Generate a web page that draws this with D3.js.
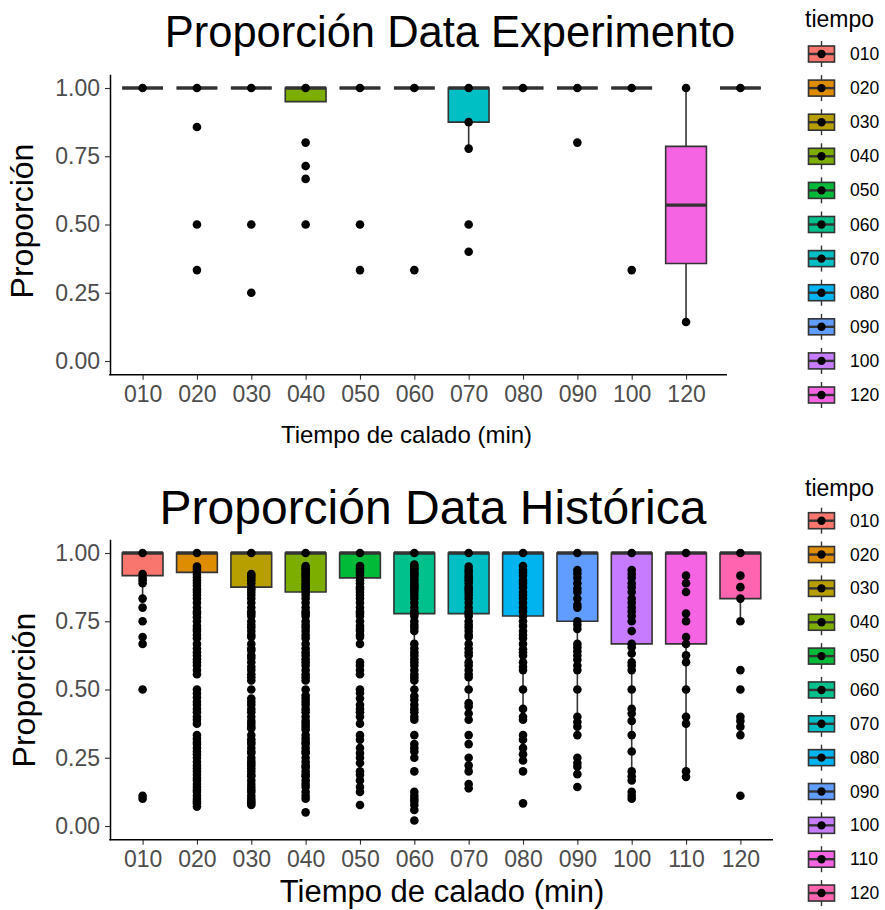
<!DOCTYPE html>
<html>
<head>
<meta charset="utf-8">
<script src="https://cdn.jsdelivr.net/npm/d3@7"></script>
<style>
  body { margin: 0; background: #fff; }
  text { font-family: "Liberation Sans", Arial, sans-serif; }
</style>
</head>
<body>
<svg id="chart" width="885" height="910"></svg>
<script>
/* ---- Datos: experimento ---- */
const tiemposExp = ['010', '020', '030', '040', '050', '060', '070', '080', '090', '100', '120', 'NA'];
const etiquetasExp = ['010', '020', '030', '040', '050', '060', '070', '080', '090', '100', '120', ''];
const leyendaExp = ['010', '020', '030', '040', '050', '060', '070', '080', '090', '100', '120'];
const coloresExp = ['#F8766D', '#DE8C00', '#B79F00', '#7CAE00', '#00BA38', '#00C08B',
  '#00BFC4', '#00B4F0', '#619CFF', '#C77CFF', '#F564E3', '#FF64B0'];

const expQ1 = [1, 1, 1, 0.95, 1, 1, 0.875, 1, 1, 1, 0.357, 1];
const expMediana = [1, 1, 1, 1, 1, 1, 1, 1, 1, 1, 0.571, 1];
const expQ3 = [1, 1, 1, 1, 1, 1, 1, 1, 1, 1, 0.786, 1];
const expBigoteInf = [1, 1, 1, 0.95, 1, 1, 0.778, 1, 1, 1, 0.143, 1];
const expBigoteSup = [1, 1, 1, 1, 1, 1, 1, 1, 1, 1, 1, 1];
const expPuntos = [
  [1],
  [1, 0.857, 0.5, 0.333],
  [1, 0.5, 0.25],
  [1, 0.8, 0.714, 0.667, 0.5],
  [1, 0.5, 0.333],
  [1, 0.333],
  [1, 0.875, 0.778, 0.5, 0.4],
  [1],
  [1, 0.8],
  [1, 0.333],
  [1, 0.143],
  [1]
];

/* ---- Datos: histórica ---- */
const tiemposHist = ['010', '020', '030', '040', '050', '060', '070', '080', '090', '100', '110', '120'];
const coloresHist = ['#F8766D', '#DE8C00', '#B79F00', '#7CAE00', '#00BA38', '#00C08B',
  '#00BFC4', '#00B4F0', '#619CFF', '#C77CFF', '#F564E3', '#FF64B0'];

const histQ1 = [0.917, 0.929, 0.875, 0.857, 0.909, 0.778, 0.778, 0.769, 0.75, 0.667, 0.667, 0.833];
const histMediana = [1, 1, 1, 1, 1, 1, 1, 1, 1, 1, 1, 1];
const histQ3 = [1, 1, 1, 1, 1, 1, 1, 1, 1, 1, 1, 1];
const histBigoteInf = [0.833, 0.833, 0.692, 0.65, 0.778, 0.444, 0.444, 0.429, 0.333, 0.167, 0.18, 0.75];
const histBigoteSup = [1, 1, 1, 1, 1, 1, 1, 1, 1, 1, 1, 1];
const histPuntos = [
  [1, 0.923, 0.909, 0.9, 0.889, 0.833, 0.8, 0.75, 0.692, 0.667, 0.5, 0.111, 0.1],
  [1, 0.95, 0.94, 0.93, 0.92, 0.91, 0.9, 0.89, 0.88, 0.867, 0.857, 0.846, 0.833, 0.818, 0.8,
    0.786, 0.778, 0.765, 0.75, 0.733, 0.722, 0.714, 0.7, 0.688, 0.667, 0.65, 0.636, 0.625,
    0.611, 0.6, 0.588, 0.571, 0.556, 0.5, 0.485, 0.471, 0.455, 0.444, 0.429, 0.417, 0.4,
    0.389, 0.375, 0.333, 0.32, 0.308, 0.3, 0.286, 0.273, 0.263, 0.25, 0.235, 0.222, 0.211,
    0.2, 0.188, 0.176, 0.167, 0.154, 0.143, 0.133, 0.125, 0.111, 0.1, 0.091, 0.083, 0.071],
  [1, 0.923, 0.917, 0.909, 0.9, 0.889, 0.875, 0.867, 0.857, 0.846, 0.833, 0.818, 0.8, 0.786,
    0.778, 0.769, 0.75, 0.737, 0.727, 0.714, 0.7, 0.692, 0.667, 0.65, 0.643, 0.625, 0.615,
    0.6, 0.583, 0.571, 0.556, 0.545, 0.533, 0.5, 0.467, 0.455, 0.444, 0.429, 0.417, 0.4,
    0.385, 0.375, 0.364, 0.357, 0.333, 0.318, 0.308, 0.3, 0.286, 0.273, 0.267, 0.25, 0.238,
    0.231, 0.222, 0.211, 0.2, 0.188, 0.182, 0.167, 0.154, 0.143, 0.133, 0.125, 0.111, 0.1,
    0.091, 0.083, 0.077],
  [1, 0.952, 0.944, 0.938, 0.929, 0.923, 0.917, 0.909, 0.9, 0.889, 0.882, 0.875, 0.867,
    0.857, 0.846, 0.833, 0.818, 0.8, 0.786, 0.778, 0.769, 0.75, 0.737, 0.727, 0.714, 0.7,
    0.688, 0.667, 0.65, 0.636, 0.625, 0.611, 0.6, 0.588, 0.571, 0.556, 0.545, 0.533, 0.5,
    0.478, 0.467, 0.455, 0.444, 0.429, 0.417, 0.4, 0.385, 0.375, 0.364, 0.353, 0.333, 0.32,
    0.308, 0.3, 0.286, 0.273, 0.267, 0.25, 0.235, 0.222, 0.214, 0.2, 0.188, 0.182, 0.167,
    0.154, 0.143, 0.125, 0.111, 0.1, 0.05],
  [1, 0.952, 0.944, 0.938, 0.929, 0.917, 0.909, 0.9, 0.889, 0.875, 0.867, 0.857, 0.846,
    0.833, 0.818, 0.8, 0.786, 0.778, 0.769, 0.75, 0.733, 0.722, 0.714, 0.7, 0.692, 0.667,
    0.6, 0.588, 0.571, 0.556, 0.5, 0.487, 0.467, 0.444, 0.429, 0.417, 0.4, 0.375, 0.333,
    0.316, 0.286, 0.267, 0.25, 0.231, 0.2, 0.188, 0.167, 0.143, 0.125, 0.077],
  [1, 0.958, 0.95, 0.944, 0.938, 0.929, 0.923, 0.917, 0.909, 0.9, 0.889, 0.882, 0.875,
    0.867, 0.857, 0.846, 0.833, 0.818, 0.8, 0.786, 0.778, 0.769, 0.75, 0.737, 0.727, 0.714,
    0.667, 0.65, 0.636, 0.625, 0.611, 0.6, 0.588, 0.571, 0.556, 0.545, 0.533, 0.5, 0.476,
    0.462, 0.444, 0.429, 0.417, 0.4, 0.389, 0.333, 0.3, 0.286, 0.273, 0.25, 0.2, 0.125,
    0.111, 0.1, 0.091, 0.077, 0.059, 0.02],
  [1, 0.95, 0.938, 0.929, 0.917, 0.909, 0.9, 0.889, 0.875, 0.867, 0.857, 0.846, 0.833,
    0.818, 0.8, 0.786, 0.778, 0.769, 0.75, 0.737, 0.727, 0.714, 0.7, 0.692, 0.667, 0.65,
    0.636, 0.625, 0.6, 0.588, 0.571, 0.556, 0.545, 0.5, 0.45, 0.438, 0.412, 0.389, 0.333,
    0.3, 0.25, 0.222, 0.2, 0.154, 0.138],
  [1, 0.952, 0.938, 0.929, 0.917, 0.9, 0.889, 0.875, 0.857, 0.846, 0.833, 0.818, 0.8,
    0.786, 0.769, 0.75, 0.733, 0.714, 0.7, 0.688, 0.667, 0.647, 0.636, 0.625, 0.6, 0.583,
    0.571, 0.5, 0.429, 0.4, 0.389, 0.333, 0.316, 0.286, 0.263, 0.24, 0.2, 0.083],
  [1, 0.938, 0.925, 0.909, 0.889, 0.87, 0.857, 0.833, 0.81, 0.8, 0.75, 0.737, 0.722,
    0.667, 0.655, 0.64, 0.625, 0.609, 0.588, 0.571, 0.5, 0.4, 0.381, 0.364, 0.333, 0.25,
    0.231, 0.217, 0.19, 0.143],
  [1, 0.938, 0.923, 0.909, 0.889, 0.875, 0.857, 0.833, 0.818, 0.8, 0.786, 0.769, 0.75,
    0.714, 0.667, 0.655, 0.632, 0.6, 0.588, 0.571, 0.5, 0.429, 0.412, 0.385, 0.333, 0.273,
    0.2, 0.182, 0.167, 0.125, 0.111, 0.1],
  [1, 0.917, 0.889, 0.857, 0.778, 0.75, 0.692, 0.667, 0.625, 0.6, 0.5, 0.4, 0.375, 0.2, 0.18],
  [1, 0.917, 0.875, 0.833, 0.75, 0.571, 0.5, 0.4, 0.385, 0.364, 0.333, 0.111]
];

const ticksY = [0, 0.25, 0.5, 0.75, 1];

const svg = d3.select('#chart');
const GRIS = '#333333';

function drawPanel(cfg) {
  const g = svg.append('g');

  const x = d3.scalePoint()
    .domain(cfg.categorias)
    .range([110, 773])
    .padding(0.6);

  const y = d3.scaleLinear()
    .domain([-0.05, 1.05])
    .range([cfg.yBottom, cfg.yTop]);

  const w = x.step() * 0.75;

  // ---- Axes ----
  const ax = g.append('g')
    .attr('transform', `translate(0,${cfg.yBottom})`)
    .call(d3.axisBottom(x).tickSize(5).tickSizeOuter(0).tickPadding(6)
      .tickFormat((d, i) => cfg.etiquetas[i]));
  ax.select('.domain').remove();
  ax.selectAll('.tick line').attr('stroke', GRIS).attr('stroke-width', 1.1)
    .filter((d, i) => cfg.etiquetas[i] === '').remove();
  ax.selectAll('.tick text').attr('font-size', 23).attr('fill', '#4D4D4D')
    .attr('font-family', '"Liberation Sans", Arial, sans-serif');

  const ay = g.append('g')
    .attr('transform', 'translate(110,0)')
    .call(d3.axisLeft(y).tickValues(ticksY).tickFormat(d3.format('.2f'))
      .tickSize(5).tickSizeOuter(0).tickPadding(5));
  ay.select('.domain').attr('stroke', '#000').attr('stroke-width', 1.5);
  ay.selectAll('.tick line').attr('stroke', GRIS).attr('stroke-width', 1.1);
  ay.selectAll('.tick text').attr('font-size', 23).attr('fill', '#4D4D4D')
    .attr('font-family', '"Liberation Sans", Arial, sans-serif');

  g.append('line')
    .attr('x1', 109.25).attr('x2', cfg.xAxisEnd)
    .attr('y1', cfg.yBottom).attr('y2', cfg.yBottom)
    .attr('stroke', '#000').attr('stroke-width', 1.5);

  // ---- Boxes ----
  const idx = d3.range(cfg.categorias.length);
  const cajas = g.append('g').selectAll('g').data(idx).join('g');

  cajas.append('line')
    .attr('x1', i => x(cfg.categorias[i])).attr('x2', i => x(cfg.categorias[i]))
    .attr('y1', i => y(cfg.q1[i])).attr('y2', i => y(cfg.lo[i]))
    .attr('stroke', GRIS).attr('stroke-width', 1.6);
  cajas.append('line')
    .attr('x1', i => x(cfg.categorias[i])).attr('x2', i => x(cfg.categorias[i]))
    .attr('y1', i => y(cfg.q3[i])).attr('y2', i => y(cfg.hi[i]))
    .attr('stroke', GRIS).attr('stroke-width', 1.6);

  cajas.append('path')
    .attr('d', i => {
      const cx = x(cfg.categorias[i]);
      return `M${cx - w / 2},${y(cfg.q3[i])}H${cx + w / 2}V${y(cfg.q1[i])}H${cx - w / 2}Z`;
    })
    .attr('fill', i => cfg.colores[i])
    .attr('stroke', GRIS).attr('stroke-width', 1.6);

  cajas.append('line')
    .attr('x1', i => x(cfg.categorias[i]) - w / 2).attr('x2', i => x(cfg.categorias[i]) + w / 2)
    .attr('y1', i => y(cfg.mediana[i])).attr('y2', i => y(cfg.mediana[i]))
    .attr('stroke', GRIS).attr('stroke-width', 3.4);

  // ---- Points ----
  const puntos = idx.flatMap(i => cfg.puntos[i].map(v => ({ cat: cfg.categorias[i], v })));
  g.append('g').selectAll('circle').data(puntos).join('circle')
    .attr('cx', d => x(d.cat))
    .attr('cy', d => y(d.v))
    .attr('r', 4.3)
    .attr('fill', '#000');

  // ---- Titles ----
  g.append('text')
    .attr('x', cfg.titulo.x).attr('y', cfg.titulo.y)
    .attr('text-anchor', 'middle').attr('font-size', cfg.titulo.size)
    .attr('fill', '#000').text(cfg.titulo.text);

  g.append('text')
    .attr('x', cfg.xLabel.x).attr('y', cfg.xLabel.y)
    .attr('text-anchor', 'middle').attr('font-size', cfg.xLabel.size)
    .attr('fill', '#000').text('Tiempo de calado (min)');

  g.append('text')
    .attr('transform', `translate(${cfg.yLabel.x},${cfg.yLabel.y}) rotate(-90)`)
    .attr('text-anchor', 'middle').attr('font-size', 32)
    .attr('fill', '#000').text('Proporción');

  // ---- Legend ----
  const lg = g.append('g');
  lg.append('text')
    .attr('x', 805).attr('y', cfg.leyenda.tituloY)
    .attr('font-size', 23).attr('fill', '#000').text('tiempo');

  const keys = lg.selectAll('g.key').data(cfg.leyenda.items).join('g')
    .attr('class', 'key')
    .attr('transform', (d, i) => `translate(821.5,${cfg.leyenda.y0 + i * cfg.leyenda.paso})`);
  keys.append('line').attr('y1', -13).attr('y2', 13)
    .attr('stroke', GRIS).attr('stroke-width', 1.4);
  keys.append('rect')
    .attr('x', -13).attr('y', -8).attr('width', 26).attr('height', 16)
    .attr('fill', (d, i) => cfg.colores[i])
    .attr('stroke', GRIS).attr('stroke-width', 1.6);
  keys.append('line').attr('x1', -13).attr('x2', 13)
    .attr('stroke', GRIS).attr('stroke-width', 2.4);
  keys.append('circle').attr('r', 4.2).attr('fill', '#000');
  keys.append('text')
    .attr('x', 28.5).attr('y', 6)
    .attr('font-size', 17.5).attr('fill', '#000')
    .text(d => d);
}

drawPanel({
  categorias: tiemposExp, etiquetas: etiquetasExp, colores: coloresExp,
  q1: expQ1, mediana: expMediana, q3: expQ3, lo: expBigoteInf, hi: expBigoteSup,
  puntos: expPuntos,
  yTop: 74.35, yBottom: 374.65, xAxisEnd: 727,
  titulo: { text: 'Proporción Data Experimento', x: 450, y: 47, size: 43.5 },
  xLabel: { x: 406.5, y: 443, size: 24 },
  yLabel: { x: 33, y: 221 },
  leyenda: { items: leyendaExp, tituloY: 27, y0: 54, paso: 34.1 }
});

drawPanel({
  categorias: tiemposHist, etiquetas: tiemposHist, colores: coloresHist,
  q1: histQ1, mediana: histMediana, q3: histQ3, lo: histBigoteInf, hi: histBigoteSup,
  puntos: histPuntos,
  yTop: 539.35, yBottom: 839.65, xAxisEnd: 773,
  titulo: { text: 'Proporción Data Histórica', x: 433, y: 524, size: 48 },
  xLabel: { x: 442, y: 902, size: 31 },
  yLabel: { x: 35, y: 690 },
  leyenda: { items: tiemposHist, tituloY: 496, y0: 520.7, paso: 33.85 }
});
</script>
</body>
</html>
